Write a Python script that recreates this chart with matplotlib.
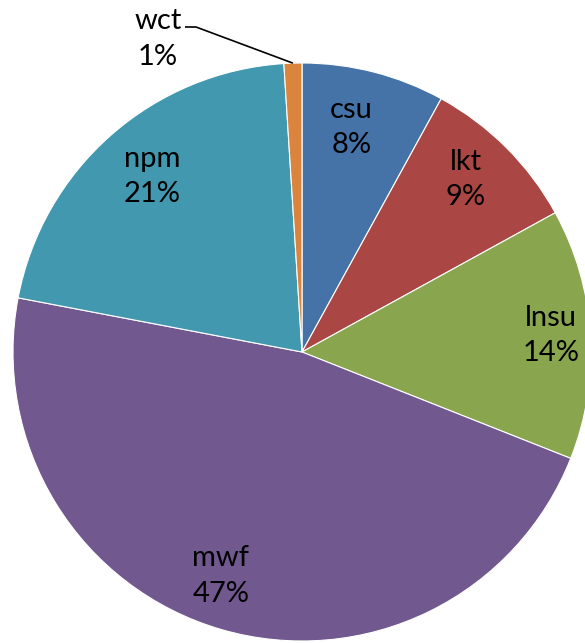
import numpy as np
import matplotlib
matplotlib.use("Agg")
import matplotlib.pyplot as plt

categories = ["csu", "lkt", "lnsu", "mwf", "npm", "wct"]
shares = [8, 9, 14, 47, 21, 1]
colors = ["#4572A7", "#AA4643", "#89A54E", "#71588F", "#4198AF", "#DB843D"]
# per-label nudges (px) away from the default radial placement
nudges = [(-9, -2), (-2, 7), (15, 2), (-16, 1), (5, 0), (0, 0)]

plt.rcParams["font.family"] = ["Lato", "DejaVu Sans"]

W, H = 585, 643
fig = plt.figure(figsize=(W / 100, H / 100), dpi=100)
ax = fig.add_axes([0, 0, 1, 1])

cx, cy, R = 302, H - 352, 289
wedges, _ = ax.pie(shares, colors=colors, startangle=90, counterclock=False,
                   center=(cx, cy), radius=R, frame=True,
                   wedgeprops=dict(edgecolor="white", linewidth=0.8))
ax.set_xlim(0, W)
ax.set_ylim(0, H)
ax.set_aspect("equal")
ax.axis("off")

fs = 21
ls = 1.45
for w, name, val, (dx, dy) in zip(wedges, categories, shares, nudges):
    mid = np.deg2rad((w.theta1 + w.theta2) / 2)
    label = f"{name}\n{val}%"
    if val < 3:
        # small slice: label outside with a leader line
        tx, ty = 158, H - 39
        ax.text(tx, ty, label, ha="center", va="center", fontsize=fs,
                linespacing=ls, color="black")
        ex = cx + R * np.cos(mid)
        ey = cy + R * np.sin(mid)
        ax.plot([185, 196, ex], [H - 27, H - 27, ey], color="black", lw=1.2,
                solid_capstyle="butt")
        continue
    r = 0.81 * R
    tx = cx + r * np.cos(mid) + dx
    ty = cy + r * np.sin(mid) + dy
    ax.text(tx, ty, label, ha="center", va="center", fontsize=fs,
            linespacing=ls, color="black")

fig.savefig("out.png", dpi=100)
